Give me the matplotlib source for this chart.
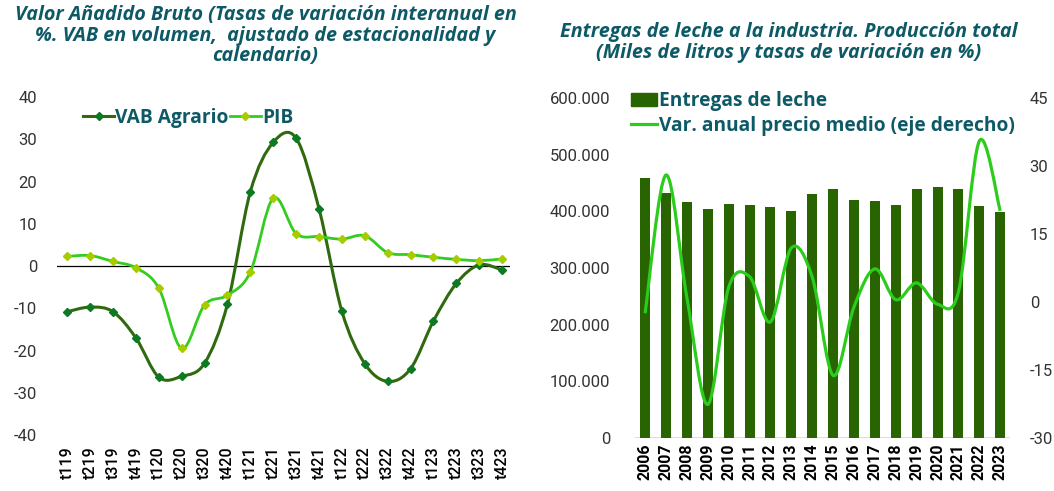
import matplotlib
matplotlib.use('Agg')
import matplotlib.pyplot as plt
from matplotlib.path import Path
from matplotlib.patches import PathPatch, Patch
from matplotlib.lines import Line2D
from matplotlib.ticker import FuncFormatter

# Left chart: quarterly rates of change (%)
quarters = ['t119', 't219', 't319', 't419', 't120', 't220', 't320', 't420',
            't121', 't221', 't321', 't421', 't122', 't222', 't322', 't422',
            't123', 't223', 't323', 't423']
vab_agrario = [-10.8, -9.7, -10.8, -17.0, -26.3, -26.1, -23.0, -9.0,
               17.6, 29.3, 30.3, 13.6, -10.7, -23.1, -27.3, -24.3,
               -13.0, -4.1, 0.3, -0.9]
pib = [2.3, 2.5, 1.1, -0.4, -5.2, -19.5, -9.2, -6.9,
       -1.4, 16.1, 7.7, 7.0, 6.4, 7.2, 3.2, 2.7,
       2.1, 1.6, 1.3, 1.7]

# Right chart: milk deliveries (thousand litres) and price change (%)
years = [str(y) for y in range(2006, 2024)]
entregas = [458000, 433000, 417000, 404000, 413000, 411000, 407000, 401000,
            431000, 439000, 420000, 419000, 411000, 439000, 442000, 439000,
            410000, 399000]
var_precio = [-2.5, 28.0, 1.0, -22.6, 3.2, 5.6, -4.4, 11.9,
              5.5, -16.2, -1.1, 7.3, 0.5, 4.2, -0.5, 2.2,
              35.5, 20.1]

title_color = '#0D5966'
text_color = '#333333'
vab_color = '#2F6A0E'
vab_marker = '#0B7A22'
pib_color = '#33CC1F'
pib_marker = '#A6CC00'
bar_color = '#286400'
price_color = '#2BCC1B'

plt.rcParams['font.family'] = ['Roboto', 'DejaVu Sans']
plt.rcParams['axes.unicode_minus'] = False


# Excel-like smoothed line (Catmull-Rom as cubic Bezier segments)
def smooth_path(xs, ys):
    pts = list(zip(xs, ys))
    n = len(pts)
    verts = [pts[0]]
    codes = [Path.MOVETO]
    for i in range(n - 1):
        p0 = pts[i - 1] if i > 0 else pts[i]
        p1 = pts[i]
        p2 = pts[i + 1]
        p3 = pts[i + 2] if i + 2 < n else pts[i + 1]
        c1 = (p1[0] + (p2[0] - p0[0]) / 6, p1[1] + (p2[1] - p0[1]) / 6)
        c2 = (p2[0] - (p3[0] - p1[0]) / 6, p2[1] - (p3[1] - p1[1]) / 6)
        verts += [c1, c2, p2]
        codes += [Path.CURVE4] * 3
    return Path(verts, codes)


fig = plt.figure(figsize=(10.54, 4.91), dpi=100)
title_font = dict(fontsize=14.2, fontstyle='italic', fontweight='bold', fontstretch='normal',
                  family=['Open Sans', 'DejaVu Sans'], color=title_color, linespacing=1.05)
legend_font = {'size': 13.8, 'weight': 'bold', 'family': ['Open Sans', 'DejaVu Sans']}

# ---------- left chart ----------
ax1 = fig.add_axes([0.054, 0.114, 0.430, 0.688])
x = list(range(len(quarters)))
ax1.add_patch(PathPatch(smooth_path(x, vab_agrario), fill=False,
                        edgecolor=vab_color, lw=2.2, zorder=3))
ax1.plot(x, vab_agrario, ls='none', marker='D', ms=4, color=vab_marker, zorder=4)
ax1.add_patch(PathPatch(smooth_path(x, pib), fill=False,
                        edgecolor=pib_color, lw=2.0, zorder=3))
ax1.plot(x, pib, ls='none', marker='D', ms=4, color=pib_marker, zorder=4)
ax1.axhline(0, color='black', lw=0.9, zorder=2)
ax1.set_xlim(-0.45, 19.35)
ax1.set_ylim(-40, 40)
ax1.set_yticks(range(-40, 41, 10))
ax1.set_xticks(x)
ax1.set_xticklabels(quarters, rotation=90, fontsize=11.5, fontweight='medium', color='black')
ax1.tick_params(axis='y', length=0, labelsize=12, labelcolor=text_color, pad=14)
ax1.tick_params(axis='x', length=0, pad=8)
for s in ax1.spines.values():
    s.set_visible(False)

handles1 = [Line2D([], [], color=vab_color, lw=2.2, marker='D', ms=4, mfc=vab_marker, mec=vab_marker),
            Line2D([], [], color=pib_color, lw=2.0, marker='D', ms=4, mfc=pib_marker, mec=pib_marker)]
leg1 = ax1.legend(handles1, ['VAB Agrario', 'PIB'], ncol=2, loc='upper left',
                  bbox_to_anchor=(0.02, 1.02), frameon=False, handlelength=1.6,
                  handletextpad=0.05, columnspacing=0.1, prop=legend_font)
for t in leg1.get_texts():
    t.set_color(title_color)

fig.text(0.252, 0.99,
         'Valor Añadido Bruto (Tasas de variación interanual en\n'
         '%. VAB en volumen,  ajustado de estacionalidad y\ncalendario)',
         ha='center', va='top', **title_font)

# ---------- right chart ----------
ax2 = fig.add_axes([0.6025, 0.108, 0.356, 0.6925])
xb = list(range(len(years)))
ax2.bar(xb, entregas, width=0.48, color=bar_color, zorder=2)
ax2.set_xlim(-0.48, 17.48)
ax2.set_ylim(0, 600000)
ax2.set_yticks(range(0, 600001, 100000))
ax2.yaxis.set_major_formatter(FuncFormatter(lambda v, p: '{:,.0f}'.format(v).replace(',', '.')))
ax2.set_xticks(xb)
ax2.set_xticklabels(years, rotation=90, fontsize=11.5, fontweight='bold', color='black')
ax2.tick_params(axis='y', length=0, labelsize=12, labelcolor=text_color, pad=18)
ax2.tick_params(axis='x', length=0, pad=4)
for s in ax2.spines.values():
    s.set_visible(False)
ax2.axhline(0, color='#555555', lw=1.0, zorder=3)

ax3 = ax2.twinx()
ax3.add_patch(PathPatch(smooth_path(xb, var_precio), fill=False,
                        edgecolor=price_color, lw=2.3, zorder=3))
ax3.set_ylim(-30, 45)
ax3.set_yticks(range(-30, 46, 15))
ax3.tick_params(axis='y', length=0, labelsize=12, labelcolor=text_color, pad=14)
for s in ax3.spines.values():
    s.set_visible(False)

handles2 = [Patch(color=bar_color), Line2D([], [], color=price_color, lw=2.3)]
leg2 = ax3.legend(handles2, ['Entregas de leche', 'Var. anual precio medio (eje derecho)'],
                  loc='upper left', bbox_to_anchor=(-0.058, 1.07), frameon=False,
                  handlelength=1.4, handletextpad=0.1, labelspacing=0.25,
                  prop=legend_font)
for t in leg2.get_texts():
    t.set_color(title_color)

fig.text(0.748, 0.955,
         'Entregas de leche a la industria. Producción total\n(Miles de litros y tasas de variación en %)',
         ha='center', va='top', **title_font)

fig.savefig('out.png', dpi=100)
